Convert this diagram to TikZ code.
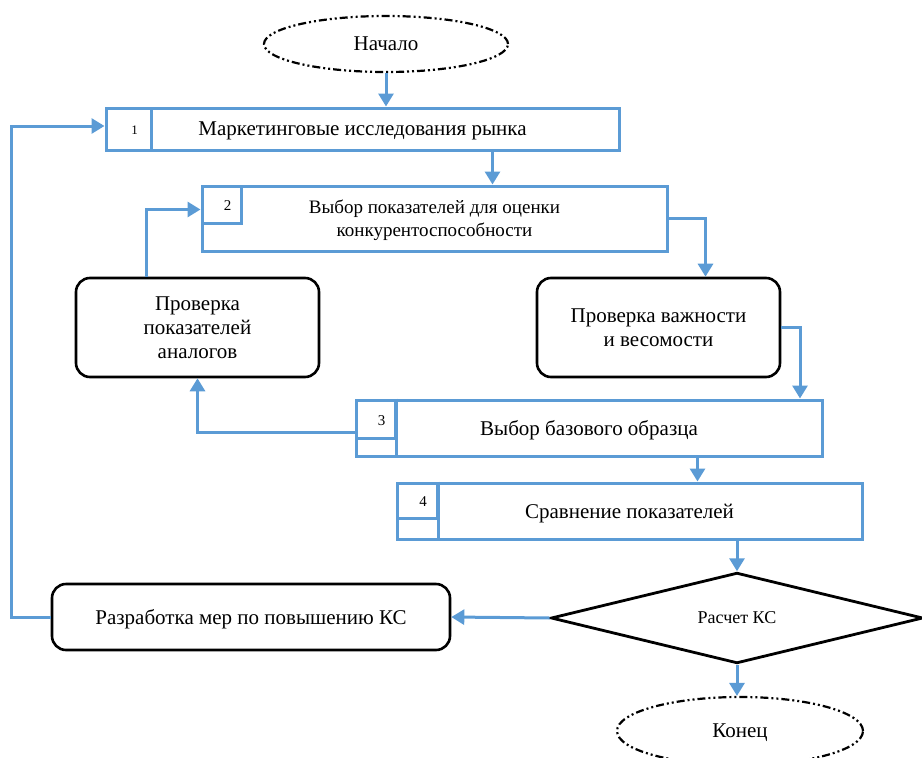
\documentclass[tikz,border=0pt]{standalone}
\usepackage{fontspec}
\setmainfont{Liberation Serif}
\usetikzlibrary{arrows.meta,shapes.geometric,positioning}
\definecolor{flowblue}{HTML}{5B9BD5}

\begin{document}
\begin{tikzpicture}[
    x=1pt, y=-1pt,
    txt/.style={font=\fontsize{21}{24}\selectfont, text depth=0pt},
    stepbox/.style={rectangle, draw=flowblue, line width=3pt, inner sep=0pt, align=center, txt},
    numcell/.style={rectangle, draw=flowblue, line width=3pt, inner sep=0pt, anchor=north west, text depth=0pt, font=\fontsize{15}{18}\selectfont,
        execute at begin node={\hspace*{12pt}\lower3pt\hbox\bgroup}, execute at end node=\egroup},
    check/.style={rectangle, rounded corners=14pt, draw, line width=2.6pt, align=center, minimum width=243pt, minimum height=99pt, txt},
    term/.style={ellipse, draw, line width=2.2pt, dash pattern=on 8pt off 3pt on 2pt off 3pt on 2pt off 3pt, inner sep=0pt, txt},
    decision/.style={diamond, draw, line width=2.8pt, inner sep=0pt, minimum width=372pt, minimum height=82pt, font=\fontsize{18}{21}\selectfont},
    arrow/.style={-{Triangle[length=13pt, width=15pt]}, draw=flowblue, line width=3pt}
]
\useasboundingbox (0,0) rectangle (922,758);

% Start
\node[term, minimum width=244pt, minimum height=56pt] (start) at (386,44) {Начало};

% Step 1
\node[stepbox, minimum width=513pt, minimum height=42pt] (market) at (362.5,129) {Маркетинговые исследования рынка};
\node[numcell, minimum width=45pt, minimum height=42pt, font=\fontsize{13}{15}\selectfont,
    execute at begin node={}, execute at end node={}] (n1) at (market.north west) {1};

% Step 2
\node[stepbox, minimum width=465pt, minimum height=65pt, font=\fontsize{19}{23}\selectfont] (select) at (434.5,218.5) {Выбор показателей для оценки\\конкурентоспособности};
\node[numcell, minimum width=39pt, minimum height=37pt] (n2) at (select.north west) {2};

% Checks
\node[check] (analogs) at (197.5,327.5) {Проверка\\показателей\\аналогов};
\node[check] (importance) at (658.5,327.5) {Проверка важности\\и весомости};

% Step 3
\node[stepbox, minimum width=466pt, minimum height=56pt] (base) at (589,428) {Выбор базового образца};
\node[numcell, minimum width=39pt, minimum height=38pt] (n3) at (base.north west) {3};
\draw[flowblue, line width=3pt] (n3.north east) -- (n3.north east |- base.south);

% Step 4
\node[stepbox, minimum width=465pt, minimum height=56pt] (compare) at (629.5,511) {Сравнение показателей};
\node[numcell, minimum width=40pt, minimum height=35pt] (n4) at (compare.north west) {4};
\draw[flowblue, line width=3pt] (n4.north east) -- (n4.north east |- compare.south);

% Calculation and measures
\node[decision] (calc) at (737,618) {Расчет КС};
\node[check, minimum width=398pt, minimum height=66pt] (measures) at (251,617) {Разработка мер по повышению КС};

% End
\node[term, minimum width=246pt, minimum height=68pt] (finish) at (740,731) {Конец};

% Main arrows
\draw[arrow] (start.south) -- (start.south |- market.north);
\draw[arrow] ([xshift=58pt]select.north |- market.south) -- ([xshift=58pt]select.north);
\draw[arrow] (select.east) -| ([xshift=47pt]importance.north);
\draw[arrow] (importance.east) -| ([xshift=211pt]base.north);
\draw[arrow] ([yshift=-4pt]base.west) -| (analogs.south);
\draw[arrow] ([xshift=-51pt]analogs.north) |- ([yshift=9pt]select.west);
\draw[arrow] ([xshift=68pt]compare.north |- base.south) -- ([xshift=68pt]compare.north);
\draw[arrow] (calc.north |- compare.south) -- (calc.north);
\draw[arrow] (calc.west) -- (measures.east);
\draw[arrow] (calc.south) -- (calc.south |- finish.north);

% Feedback loop
\draw[arrow] (measures.west) -- ++(-39,0) |- ([yshift=3pt]market.west);

\end{tikzpicture}
\end{document}
